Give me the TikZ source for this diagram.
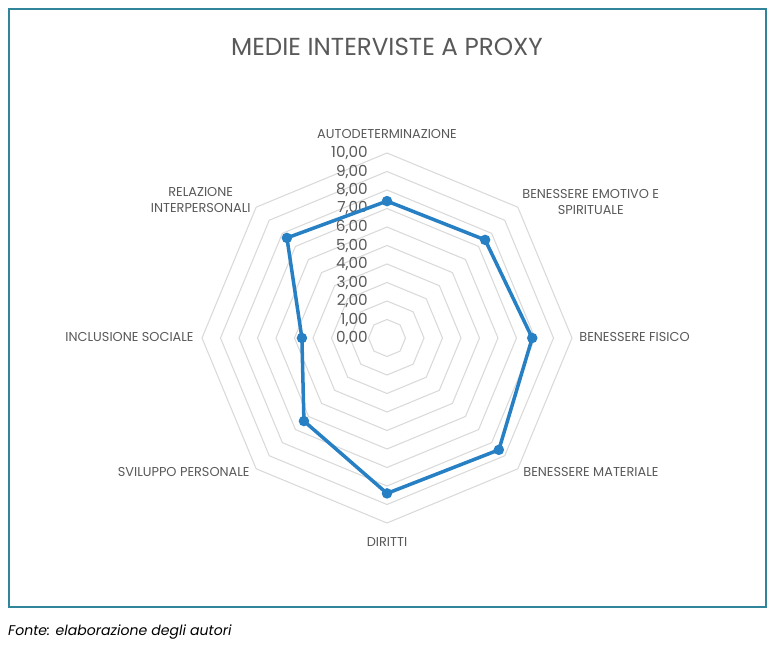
\documentclass[tikz,border=0pt]{standalone}
\usepackage{fontspec}
\setmainfont{Poppins}
\usetikzlibrary{calc}
\definecolor{frameteal}{RGB}{49,133,155}
\definecolor{serieblue}{RGB}{40,128,196}
\definecolor{ringgrey}{RGB}{217,217,217}
\definecolor{textgrey}{RGB}{89,89,89}
\tikzset{
	axislabel/.style={font=\fontsize{11}{13}\selectfont, text=textgrey, align=center, inner sep=1pt},
	ticklabel/.style={font=\fontsize{13}{14}\selectfont, text=textgrey, anchor=east, inner sep=0pt},
	datadot/.style={circle, fill=serieblue, inner sep=0pt, minimum size=9pt}
}
\begin{document}
\begin{tikzpicture}[x=0.03cm,y=-0.03cm]
		\useasboundingbox (0,0) rectangle (773,649);
		\draw [frameteal, line width=1.2pt] (9,9) rectangle (766,607);
		\node [font=\fontsize{21}{23}\selectfont, text=textgrey] (title) at (387,47) {MEDIE INTERVISTE A PROXY};

		% rings
		\foreach \r in {1,...,10}{
				\draw [ringgrey, line width=0.9pt] (387,338) +(90:\r*18.5)
					\foreach \a in {45,0,...,-225}{ -- +(\a:\r*18.5)} -- cycle;
			}
		\foreach \r in {0,...,10}{
				\node [ticklabel] (tick\r) at (368,338-\r*18.5) {\r,00};
			}

		% series
		\foreach \v [count=\i] in {7.4,7.5,7.85,8.55,8.4,6.35,4.6,7.65}{
				\coordinate (p\i) at ($(387,338)+({-90+45*(\i-1)}:\v*18.5)$);
			}
		\draw [serieblue, line width=3pt, line join=round] (p1) -- (p2) -- (p3) -- (p4) -- (p5) -- (p6) -- (p7) -- (p8) -- cycle;
		\foreach \i in {1,...,8}{
				\node [datadot] (dot\i) at (p\i) {};
			}

		% axis labels
		\node [axislabel] (l1) at (387,134) {AUTODETERMINAZIONE};
		\node [axislabel, anchor=west] (l2) at (521,202) {BENESSERE EMOTIVO E\\SPIRITUALE};
		\node [axislabel, anchor=west] (l3) at (578,337) {BENESSERE FISICO};
		\node [axislabel, anchor=west] (l4) at (522,472) {BENESSERE MATERIALE};
		\node [axislabel] (l5) at (387,542) {DIRITTI};
		\node [axislabel, anchor=east] (l6) at (251,472) {SVILUPPO PERSONALE};
		\node [axislabel, anchor=east] (l7) at (195,337) {INCLUSIONE SOCIALE};
		\node [axislabel, anchor=east] (l8) at (252,200) {RELAZIONE\\INTERPERSONALI};

		\node [font=\itshape\fontsize{12}{13}\selectfont, anchor=west, inner sep=0pt] (source) at (8,632) {Fonte: elaborazione degli autori};
\end{tikzpicture}
\end{document}
